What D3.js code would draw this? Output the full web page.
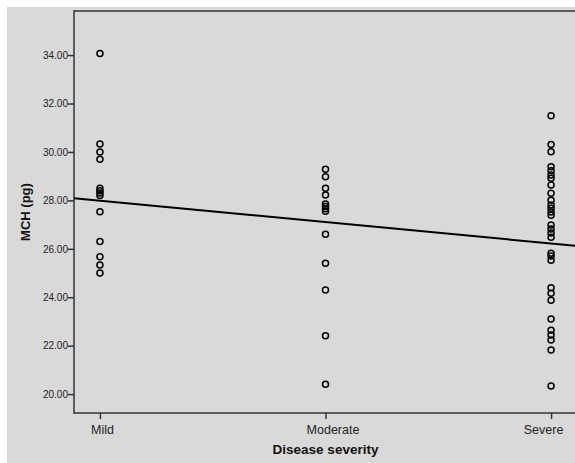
<!DOCTYPE html>
<html>
<head>
<meta charset="utf-8">
<script src="https://cdn.jsdelivr.net/npm/d3@7"></script>
<style>
  body { margin: 0; background: #fff; }
  svg text { font-family: "Liberation Sans", Arial, sans-serif; }
</style>
</head>
<body>
<div class="chartdiv"></div>
<script>
// categories on the x axis
const severity = ['Mild', 'Moderate', 'Severe']
// MCH (pg) values, per group
const mildVals = [34.07, 30.33, 30.0, 29.7, 28.5, 28.4, 28.3, 28.2, 27.53, 26.3, 25.67, 25.33, 25.0]
const moderateVals = [29.29, 28.98, 28.5, 28.22, 27.85, 27.75, 27.65, 27.55, 26.6, 25.4, 24.3, 22.41, 20.41]
const severeVals = [31.49, 30.31, 30.01, 29.39, 29.22, 29.05, 28.91, 28.63, 28.29, 28.01,
    27.81, 27.68, 27.52, 27.39, 26.98, 26.82, 26.65, 26.48, 25.82, 25.7, 25.53,
    24.39, 24.16, 23.88, 23.1, 22.64, 22.44, 22.23, 21.82, 20.33]
// fitted linear line, value at Mild and Severe
const fitEnds = [27.99, 26.22]
const yTicks = [20, 22, 24, 26, 28, 30, 32, 34]

const w = 575, h = 463
const padL = 74, padT = 11, padB = 413, padR = 577
// small shifts of the x tick labels as in the original
const xLabelShift = [2, 7, -8]

// points in one table, x as category code 1..3
let groups = [mildVals, moderateVals, severeVals]
let dataset = []
groups.forEach((vals, gi) => {
    vals.forEach(v => dataset.push({ code: gi + 1, y: v }))
})

var xScale = d3.scaleLinear()
    .domain([0.885, 3.115])
    .range([padL, padR])
var yScale = d3.scaleLinear()
    .domain([19.22, 35.82])
    .range([padB, padT])

var svg = d3.select('.chartdiv')
    .append('svg')
    .attr('width', w)
    .attr('height', h)

// gray panel
svg.append('rect')
    .attr('x', 7).attr('y', 7)
    .attr('width', w - 7).attr('height', h - 7)
    .attr('fill', '#d9d9d9')

// plot frame
svg.append('rect')
    .attr('x', padL).attr('y', padT)
    .attr('width', padR - padL).attr('height', padB - padT)
    .attr('fill', 'none')
    .attr('stroke', '#333')
    .attr('stroke-width', 1.5)

// y axis
var yAxis = d3.axisLeft(yScale)
    .tickValues(yTicks)
    .tickSize(6)
    .tickFormat(d3.format('.2f'))
let gy = svg.append('g')
    .attr('transform', 'translate(' + padL + ',0)')
    .call(yAxis)
gy.select('.domain').remove()
gy.selectAll('line').attr('stroke', '#333').attr('stroke-width', 1.5)
gy.selectAll('text')
    .attr('x', -6)
    .style('font-size', '10px')
    .style('fill', '#222')

// x axis
var xAxis = d3.axisBottom(xScale)
    .tickValues([1, 2, 3])
    .tickSize(6)
    .tickFormat(d => severity[d - 1])
let gx = svg.append('g')
    .attr('transform', 'translate(0,' + padB + ')')
    .call(xAxis)
gx.select('.domain').remove()
gx.selectAll('line').attr('stroke', '#333').attr('stroke-width', 1.5)
gx.selectAll('text')
    .attr('y', 12)
    .attr('dx', d => xLabelShift[d - 1])
    .style('font-size', '12.5px')
    .style('fill', '#222')

// axis titles
svg.append('text')
    .attr('x', (padL + padR) / 2)
    .attr('y', 454)
    .attr('text-anchor', 'middle')
    .style('font-size', '13.5px')
    .style('font-weight', 'bold')
    .style('fill', '#111')
    .text('Disease severity')

svg.append('text')
    .attr('transform', 'translate(30,212) rotate(-90)')
    .attr('text-anchor', 'middle')
    .style('font-size', '13px')
    .style('font-weight', 'bold')
    .style('fill', '#111')
    .text('MCH (pg)')

// fit line across the plot
let slope = (fitEnds[1] - fitEnds[0]) / 2
let fitVal = c => fitEnds[0] + slope * (c - 1)
let lineData = xScale.domain().map(c => ({ code: c, y: fitVal(c) }))
var fitline = d3.line()
    .x(d => xScale(d.code))
    .y(d => yScale(d.y))
svg.append('path')
    .datum(lineData)
    .attr('d', fitline)
    .attr('fill', 'none')
    .attr('stroke', '#000')
    .attr('stroke-width', 2)

// open circle points
svg.append('g')
    .selectAll('circle')
    .data(dataset)
    .enter()
    .append('circle')
    .attr('cx', d => xScale(d.code))
    .attr('cy', d => yScale(d.y))
    .attr('r', 3)
    .attr('fill', 'none')
    .attr('stroke', '#000')
    .attr('stroke-width', 1.5)
</script>
</body>
</html>
